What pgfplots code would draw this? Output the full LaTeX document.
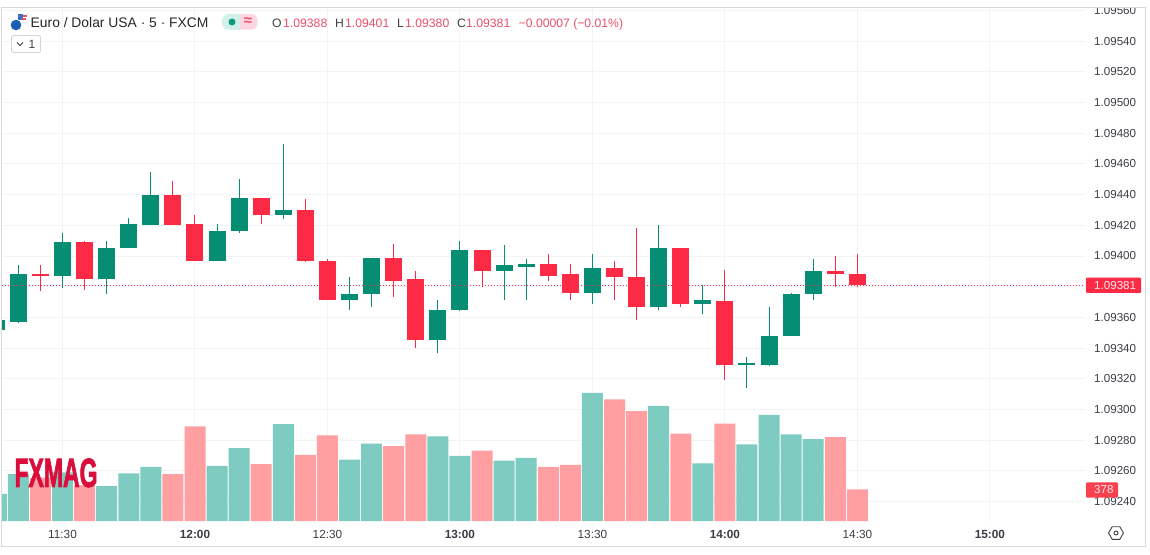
\documentclass[border=0pt]{standalone}
\usepackage{fontspec}
\setmainfont{Liberation Sans}
\newfontfamily\wmfont[RawFeature={embolden=2.5}]{Liberation Sans Bold}
\usepackage{graphicx}
\usepackage{pgfplots}
\usepackage{pgfplotstable}
\pgfplotsset{compat=1.18}
\definecolor{cgreen}{HTML}{058E74}
\definecolor{cred}{HTML}{FC2A44}
\definecolor{vgreen}{HTML}{7ECBC2}
\definecolor{vred}{HTML}{FF9FA2}
\definecolor{gridc}{HTML}{F2F3F5}
\definecolor{framec}{HTML}{D8D8D8}
\definecolor{axtext}{HTML}{3A3D45}
\definecolor{valred}{HTML}{E8506A}
\definecolor{lastline}{HTML}{FF2A4A}
\definecolor{wmark}{HTML}{D90E3C}
\definecolor{voltag}{HTML}{F9404F}
\definecolor{globe}{HTML}{1D5FB0}
\definecolor{flagb}{HTML}{3C6FBE}
\definecolor{pillg}{HTML}{D3EFE9}
\definecolor{pillr}{HTML}{FBD6E0}
\definecolor{dotg}{HTML}{0E9A7D}
\definecolor{btn}{HTML}{D2D4D8}
% candle index (12:00 = 0, one candle = 5 minutes), open, high, low, close, volume
\pgfplotstableread{
i o h l c v
-9 1.09352 1.09358 1.09352 1.09358 322
-8 1.09357 1.09394 1.09356 1.09388 560
-6 1.09387 1.09415 1.09379 1.09409 580
-4 1.09385 1.09410 1.09375 1.09405 417
-3 1.09405 1.09425 1.09405 1.09421 569
-2 1.09420 1.09455 1.09420 1.09440 644
1 1.09397 1.09421 1.09397 1.09416 656
2 1.09416 1.09450 1.09415 1.09438 870
4 1.09427 1.09473 1.09424 1.09430 1156
7 1.09371 1.09386 1.09365 1.09375 731
8 1.09375 1.09399 1.09367 1.09399 921
11 1.09345 1.09371 1.09337 1.09365 1009
12 1.09365 1.09410 1.09364 1.09404 775
14 1.09390 1.09407 1.09371 1.09394 719
15 1.09393 1.09398 1.09371 1.09395 751
18 1.09376 1.09401 1.09369 1.09392 1526
21 1.09367 1.09420 1.09365 1.09405 1371
23 1.09369 1.09381 1.09362 1.09371 688
25 1.09329 1.09334 1.09314 1.09330 914
26 1.09329 1.09367 1.09328 1.09348 1264
27 1.09348 1.09376 1.09348 1.09375 1033
28 1.09375 1.09398 1.09371 1.09390 977
}\upcandles
\pgfplotstableread{
i o h l c v
-7 1.09388 1.09394 1.09377 1.09387 515
-5 1.09409 1.09410 1.09378 1.09385 429
-1 1.09440 1.09449 1.09420 1.09420 560
0 1.09421 1.09427 1.09397 1.09397 1129
3 1.09438 1.09438 1.09421 1.09427 679
5 1.09430 1.09437 1.09396 1.09397 787
6 1.09397 1.09398 1.09371 1.09371 1021
9 1.09399 1.09408 1.09373 1.09384 894
10 1.09385 1.09390 1.09340 1.09345 1033
13 1.09404 1.09404 1.09380 1.09390 838
16 1.09395 1.09401 1.09384 1.09387 644
17 1.09388 1.09395 1.09371 1.09376 668
19 1.09392 1.09397 1.09371 1.09386 1451
20 1.09386 1.09418 1.09358 1.09367 1311
22 1.09405 1.09405 1.09367 1.09369 1041
24 1.09371 1.09391 1.09319 1.09329 1160
29 1.09390 1.09400 1.09380 1.09388 1001
30 1.09388 1.09401 1.09380 1.09381 378
}\downcandles
\newcommand{\fs}[1]{\fontsize{#1}{#1}\selectfont}
\pgfplotsset{chartbase/.style={
  at={(2pt,33pt)}, anchor=south west,
  width=1083pt, height=513.5pt, scale only axis,
  xmin=-8.741, xmax=40.308,
}}
\begin{document}
\begin{tikzpicture}[x=1pt,y=1pt]
\path[use as bounding box] (0,0) rectangle (1150,554);
% price axis: grid, labels, candles
\begin{axis}[chartbase,
  ymin=1.0922725, ymax=1.09562,
  axis line style={draw=none},
  major tick length=0pt,
  xtick={-6,0,6,12,18,24,30,36},
  xticklabels={11:30,\textbf{12:00},12:30,\textbf{13:00},13:30,\textbf{14:00},14:30,\textbf{15:00}},
  ytick={1.0924,1.0926,1.0928,1.0930,1.0932,1.0934,1.0936,1.0938,1.0940,1.0942,1.0944,1.0946,1.0948,1.0950,1.0952,1.0954,1.0956},
  scaled y ticks=false,
  yticklabel pos=right,
  yticklabel style={/pgf/number format/fixed, /pgf/number format/fixed zerofill, /pgf/number format/precision=5,
    /pgf/number format/assume math mode=true, anchor=west, xshift=9pt, inner sep=0pt, font=\fs{11.6}, text=axtext},
  xticklabel style={anchor=center, yshift=-13.5pt, inner sep=0pt, font=\fs{11.8}, text=axtext},
  grid=major, major grid style={gridc, line width=1pt},
]
\addplot[draw=none, mark=none, error bars/.cd, y dir=plus, y explicit, error mark=none,
  error bar style={cgreen, line width=1pt}]
  table[x=i, y=l, y error plus expr=\thisrow{h}-\thisrow{l}] {\upcandles};
\addplot[draw=none, mark=none, error bars/.cd, y dir=plus, y explicit, error mark=none,
  error bar style={cred, line width=1pt}]
  table[x=i, y=l, y error plus expr=\thisrow{h}-\thisrow{l}] {\downcandles};
\addplot[draw=none, mark=none, error bars/.cd, y dir=plus, y explicit, error mark=none,
  error bar style={cgreen, line width=17pt}]
  table[x=i, y=o, y error plus expr=\thisrow{c}-\thisrow{o}] {\upcandles};
\addplot[draw=none, mark=none, error bars/.cd, y dir=plus, y explicit, error mark=none,
  error bar style={cred, line width=17pt}]
  table[x=i, y=c, y error plus expr=\thisrow{o}-\thisrow{c}] {\downcandles};
\addplot[draw=lastline, line width=1pt, dash pattern=on 1pt off 2pt, mark=none] coordinates {(-8.741,1.09381) (40.308,1.09381)};
\end{axis}
% volume pane
\begin{axis}[chartbase,
  ymin=0, ymax=6121,
  axis lines=none,
  ybar, bar width=21pt, bar shift=0pt,
]
\addplot[fill=vgreen, draw=none] table[x=i, y=v] {\upcandles};
\addplot[fill=vred, draw=none] table[x=i, y=v] {\downcandles};
\end{axis}
% chart furniture, in pixel coordinates of the reference
\begin{scope}[x=1pt,y=-1pt,yshift=554pt]
\fill[white] (0,0) rectangle (1150,7.5);
\fill[white] (0,546) rectangle (1150,554);
\draw[framec, line width=1pt] (1.5,7.5) rectangle (1145.7,546.5);
% watermark
\node[anchor=north west, inner sep=0pt, text=wmark] at (14.3,458.3)
  {\resizebox{83pt}{28.4pt}{\wmfont FXMAG}};
% last price and volume tags
\fill[cred, rounded corners=1pt] (1086,277.7) rectangle (1141,293);
\node[anchor=west, inner sep=0pt, text=white!92!red, font=\fs{11.6}] at (1094,285.5) {1.09381};
\fill[voltag, rounded corners=1pt] (1086,482.3) rectangle (1118,497.7);
\node[anchor=west, inner sep=0pt, text=white!92!red, font=\fs{11.6}] at (1094,490) {378};
% settings icon
\draw[black!75, line width=0.9pt, line join=round] (1108.5,533)--(1112.2,526.7)--(1119.8,526.7)--(1123.5,533)--(1119.8,539.3)--(1112.2,539.3)--cycle;
\draw[black!75, line width=0.9pt] (1116,533) circle (2);
% legend row
\fill[globe] (16,25) circle (5.3);
\fill[flagb] (17.5,14.5) rectangle (23,20);
\fill[valred] (23,15) rectangle (27,17);
\fill[valred] (22,18.5) rectangle (26,20.5);
\node[anchor=base west, inner sep=0pt, text=black!85, font=\fs{13.85}] at (30.5,28) {Euro / Dolar USA · 5 · FXCM};
\fill[pillg, rounded corners=7pt] (222,14) rectangle (245,29.7);
\fill[pillr, rounded corners=7pt] (235,14) rectangle (257.7,29.7);
\fill[pillg] (230,14) rectangle (240,29.7);
\fill[dotg] (232,22) circle (3.5);
\node[inner sep=0pt, text=valred, font=\fs{15}\bfseries] at (248,21.5) {≈};
\node[anchor=base west, inner sep=0pt, text=black!75, font=\fs{12.2}] at (272,28) {O};
\node[anchor=base west, inner sep=0pt, text=valred, font=\fs{12.2}] at (283,28) {1.09388};
\node[anchor=base west, inner sep=0pt, text=black!75, font=\fs{12.2}] at (335,28) {H};
\node[anchor=base west, inner sep=0pt, text=valred, font=\fs{12.2}] at (345,28) {1.09401};
\node[anchor=base west, inner sep=0pt, text=black!75, font=\fs{12.2}] at (397,28) {L};
\node[anchor=base west, inner sep=0pt, text=valred, font=\fs{12.2}] at (405,28) {1.09380};
\node[anchor=base west, inner sep=0pt, text=black!75, font=\fs{12.2}] at (457,28) {C};
\node[anchor=base west, inner sep=0pt, text=valred, font=\fs{12.2}] at (466,28) {1.09381};
\node[anchor=base west, inner sep=0pt, text=valred, font=\fs{12.2}] at (518.5,28) {−0.00007 (−0.01\%)};
% pane button
\draw[btn, fill=white, line width=0.8pt, rounded corners=2pt] (11.5,35.5) rectangle (40.5,52.5);
\draw[black!75, line width=0.9pt] (17,42.5)--(20,45.5)--(23,42.5);
\node[inner sep=0pt, text=black!75, font=\fs{12}] at (32,44) {1};
\end{scope}
\end{tikzpicture}
\end{document}
